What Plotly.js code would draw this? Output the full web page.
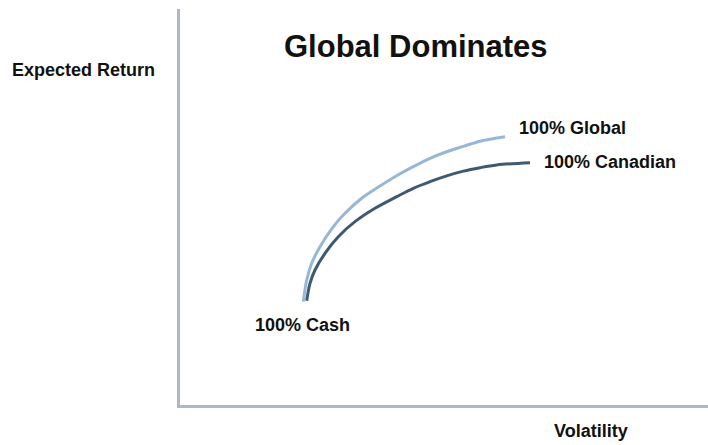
<!DOCTYPE html>
<html>
<head>
<meta charset="utf-8">
<script src="https://cdn.plot.ly/plotly-3.0.1.min.js"></script>
<style>html,body{margin:0;padding:0;background:#fff;}#chart{width:708px;height:445px;}</style>
</head>
<body>
<div id="chart"></div>
<script>
// Efficient-frontier style curves (arbitrary units: volatility vs expected return)
const globalVol = [23.35, 24.0, 24.94, 26.52, 28.73, 31.25, 34.41, 37.88, 41.04, 44.19, 47.35, 50.51, 53.66, 56.82, 61.55];
const globalRet = [26.09, 31.57, 35.78, 39.97, 44.50, 48.41, 52.20, 55.30, 57.90, 60.18, 62.30, 63.96, 65.30, 66.60, 67.75];
const canadianVol = [24.0, 24.62, 25.57, 27.46, 29.98, 33.14, 36.93, 41.04, 44.19, 47.35, 50.51, 53.66, 56.82, 59.98, 66.29];
const canadianRet = [26.34, 30.73, 34.09, 38.31, 42.50, 46.29, 49.67, 52.60, 54.72, 56.39, 57.85, 59.05, 59.93, 60.61, 61.20];

const titleText = "Global Dominates";
const yLabel = "Expected Return";
const xLabel = "Volatility";
const globalLabel = "100% Global";
const canadianLabel = "100% Canadian";
const cashLabel = "100% Cash";

const W = 708, H = 445;
const L = 180, R = 0, T = 9, B = 40;
const pw = W - L - R, ph = H - T - B;
const px = x => (x - L) / pw;
const py = y => (H - B - y) / ph;

const font = {family: '"Liberation Sans", Arial, sans-serif', color: '#111111'};
function ann(text, x, y, size, anchor) {
  return {text: '<b>' + text + '</b>', xref: 'paper', yref: 'paper', x: px(x), y: py(y),
    xanchor: anchor || 'left', yanchor: 'middle', showarrow: false,
    font: Object.assign({size: size}, font)};
}

const traces = [
  {x: globalVol, y: globalRet, mode: 'lines', line: {color: '#98b7d6', width: 3, shape: 'spline', smoothing: 1}, hoverinfo: 'skip'},
  {x: canadianVol, y: canadianRet, mode: 'lines', line: {color: '#3e5a73', width: 3, shape: 'spline', smoothing: 1}, hoverinfo: 'skip'}
];

const layout = {
  width: W, height: H,
  margin: {l: L, r: R, t: T, b: B, pad: 0},
  paper_bgcolor: '#ffffff', plot_bgcolor: '#ffffff',
  showlegend: false,
  xaxis: {range: [0, 100], showline: true, linecolor: '#aeb7c6', linewidth: 3, showgrid: false, zeroline: false, showticklabels: false, ticks: '', fixedrange: true},
  yaxis: {range: [0, 100], showline: true, linecolor: '#aeb7c6', linewidth: 3, showgrid: false, zeroline: false, showticklabels: false, ticks: '', fixedrange: true},
  annotations: [
    ann(titleText, 416, 46, 31, 'center'),
    ann(yLabel, 10, 70, 18),
    ann(xLabel, 552, 431, 18),
    ann(globalLabel, 517, 128, 18),
    ann(canadianLabel, 542, 162, 18),
    ann(cashLabel, 253, 325, 18)
  ]
};

Plotly.newPlot('chart', traces, layout, {staticPlot: true, displayModeBar: false});
</script>
</body>
</html>
